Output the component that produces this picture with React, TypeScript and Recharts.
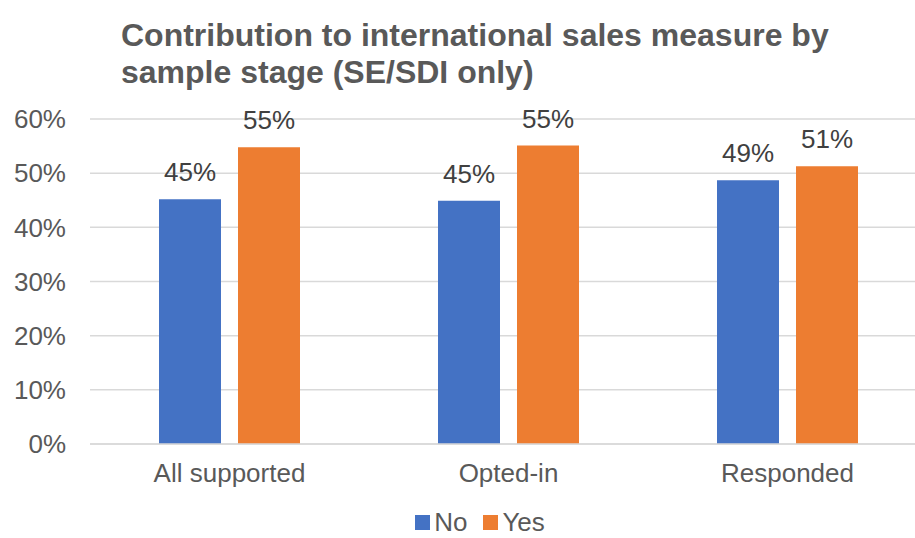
import React from 'react';
import { BarChart, Bar, XAxis, YAxis, CartesianGrid, Legend, LabelList } from 'recharts';

const stages = ['All supported', 'Opted-in', 'Responded'];
const noShare = [0.452, 0.449, 0.487];
const yesShare = [0.548, 0.551, 0.513];
const yTicks = [0, 0.1, 0.2, 0.3, 0.4, 0.5, 0.6];

const chartData = stages.map((stage, i) => ({ stage, No: noShare[i], Yes: yesShare[i] }));

const FONT = '"Liberation Sans", Arial, sans-serif';
const pct = (v: number) => `${Math.round(v * 100)}%`;

function LegendBox({ payload }: any) {
    return (
        <div style={{ display: 'flex', justifyContent: 'center', gap: 16, fontFamily: FONT, fontSize: 26, color: '#595959', lineHeight: '30px' }}>
            {(payload || []).map((p: any) => (
                <div key={p.value} style={{ display: 'flex', alignItems: 'center', gap: 4 }}>
                    <span style={{ width: 15, height: 15, background: p.color, display: 'inline-block' }} />
                    <span>{p.value}</span>
                </div>
            ))}
        </div>
    );
}

export default function App() {
    return (
        <div style={{ position: 'absolute', left: 0, top: 0, width: 915, height: 538, overflow: 'hidden', background: '#fff' }}>
            <div style={{ position: 'absolute', left: 121, top: 17, fontFamily: FONT, fontWeight: 'bold', fontSize: 32, lineHeight: '37px', color: '#595959', whiteSpace: 'nowrap', zIndex: 1 }}>
                Contribution to international sales measure by<br />sample stage (SE/SDI only)
            </div>
            <BarChart
                width={960}
                height={538}
                data={chartData}
                margin={{ top: 119, right: 33, left: 0, bottom: 34 }}
                barSize={62}
                barGap={17}
            >
                <CartesianGrid vertical={false} stroke="#D9D9D9" strokeWidth={1.5} />
                <XAxis
                    dataKey="stage"
                    tickLine={false}
                    axisLine={{ stroke: '#D9D9D9', strokeWidth: 1.5 }}
                    tickSize={0}
                    tickMargin={20}
                    tick={{ fill: '#595959', fontSize: 26, fontFamily: FONT }}
                />
                <YAxis
                    width={90}
                    domain={[0, 0.6]}
                    ticks={yTicks}
                    tickFormatter={pct}
                    tickLine={false}
                    axisLine={false}
                    tickSize={0}
                    tickMargin={24}
                    tick={{ fill: '#595959', fontSize: 26, fontFamily: FONT }}
                />
                <Legend
                    verticalAlign="bottom"
                    content={<LegendBox />}
                    wrapperStyle={{ left: 0, width: 960, bottom: 1 }}
                />
                <Bar dataKey="No" fill="#4472C4" isAnimationActive={false}>
                    <LabelList dataKey="No" position="top" offset={18} formatter={pct} fill="#404040" fontSize={26} fontFamily={FONT} />
                </Bar>
                <Bar dataKey="Yes" fill="#ED7D31" isAnimationActive={false}>
                    <LabelList dataKey="Yes" position="top" offset={18} formatter={pct} fill="#404040" fontSize={26} fontFamily={FONT} />
                </Bar>
            </BarChart>
        </div>
    );
}
